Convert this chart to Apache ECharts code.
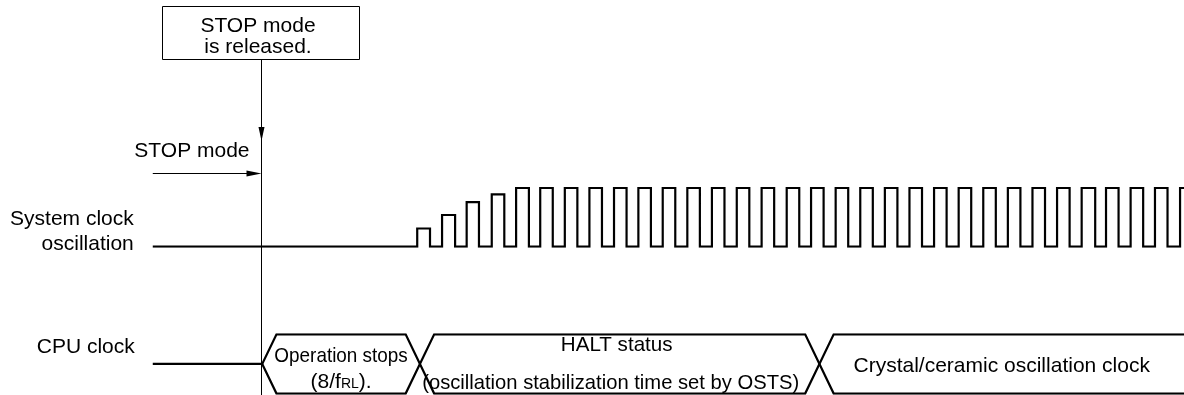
<!DOCTYPE html>
<html><head><meta charset="utf-8">
<script src="https://cdn.jsdelivr.net/npm/echarts@6/dist/echarts.min.js"></script>
<style>html,body{margin:0;padding:0;background:#fff}#c{width:1184px;height:395px}</style>
</head><body><div id="c"></div>
<script>
// Time unit: one period of the stable system clock. t = 0 is the moment STOP mode is released.
const timeMin = -10.59;
const timeMax = 37.54;
const traceStart = -4.38;
const releaseTime = 0;

// System clock oscillation: rising / falling edges and relative amplitude of each pulse
const clockRise = [6.37, 7.38, 8.38, 9.40, 10.39, 11.37, 12.37, 13.37, 14.37, 15.36, 16.35, 17.35, 18.35, 19.36, 20.37, 21.39,
  22.38, 23.38, 24.38, 25.38, 26.38, 27.38, 28.38, 29.38, 30.38, 31.38, 32.38, 33.38, 34.37, 35.37, 36.36, 37.38];
const clockFall = [6.89, 7.91, 8.88, 9.91, 10.91, 11.88, 12.88, 13.88, 14.88, 15.87, 16.86, 17.86, 18.86, 19.87, 20.88, 21.90,
  22.89, 23.89, 24.89, 25.89, 26.89, 27.89, 28.89, 29.89, 30.89, 31.89, 32.89, 33.93, 34.88, 35.88, 36.87, 37.89];
const clockHeight = [0.31, 0.54, 0.76, 0.89, 1, 1, 1, 1, 1, 1, 1, 1, 1, 1, 1, 1,
  1, 1, 1, 1, 1, 1, 1, 1, 1, 1, 1, 1, 1, 1, 1, 1];

// CPU clock states
const cpuStateNames = ['Operation stops', 'HALT status', 'Crystal/ceramic oscillation clock'];
const cpuStateNotes = ['(8/fRL).', '(oscillation stabilization time set by OSTS)', ''];
const cpuStateStart = [0.07, 6.48, 22.72];
const cpuStateEnd = [6.48, 22.72, 37.54];

// Row labels and annotations
const rowLabels = ['System clock\noscillation', 'CPU clock'];
const releaseBoxText = 'STOP mode\nis released.';
const stopModeText = 'STOP mode';

// ---- styles ----
const FONT = '"Liberation Sans", Arial, Helvetica, sans-serif';
const edgeHalf = 0.58; // half-width of a bus transition, in time units
const labelCfg = [
  { nameDx: 0, nameDy: -8, nameSize: 21, nameScaleX: 0.9, noteDx: 0, noteDy: 18, noteSize: 21 },
  { nameDx: -3, nameDy: -18.5, nameSize: 20.6, nameScaleX: 1, noteDx: -9, noteDy: 19, noteSize: 20.2 },
  { nameDx: 0, nameDy: 2.5, nameSize: 21, nameScaleX: 1, noteDx: 0, noteDy: 0, noteSize: 21 }
];

// System clock polyline
const clockData = [[traceStart, 0]];
for (let i = 0; i < clockRise.length; i++) {
  clockData.push([clockRise[i], 0], [clockRise[i], clockHeight[i]], [clockFall[i], clockHeight[i]], [clockFall[i], 0]);
}

// CPU clock bus polylines
const busA = [[traceStart, 0], [cpuStateStart[0], 0]];
const busB = [[cpuStateStart[0], 0]];
let lvl = 1;
busA.push([cpuStateStart[0] + edgeHalf, lvl]);
busB.push([cpuStateStart[0] + edgeHalf, -lvl]);
for (let i = 1; i < cpuStateStart.length; i++) {
  const c = cpuStateStart[i];
  busA.push([c - edgeHalf, lvl], [c + edgeHalf, -lvl]);
  busB.push([c - edgeHalf, -lvl], [c + edgeHalf, lvl]);
  lvl = -lvl;
}
const endT = cpuStateEnd[cpuStateEnd.length - 1];
busA.push([endT, lvl]);
busB.push([endT, -lvl]);

function noteRich(note) {
  const parts = note.split('fRL');
  if (parts.length > 1) return '{b|' + parts[0] + 'f}{s|RL}{b|' + parts[1] + '}';
  return '{b|' + note + '}';
}

function renderState(params, api) {
  const i = api.value(2);
  const mid = (api.value(0) + api.value(1)) / 2;
  const p = api.coord([mid, 0]);
  const cfg = labelCfg[i];
  const children = [{
    type: 'text', x: p[0] + cfg.nameDx, y: p[1] + cfg.nameDy, scaleX: cfg.nameScaleX,
    style: { text: cpuStateNames[i], x: 0, y: 0, align: 'center', verticalAlign: 'middle',
      fontFamily: FONT, fontSize: cfg.nameSize, fill: '#000' }
  }];
  if (cpuStateNotes[i]) {
    children.push({
      type: 'text', x: p[0] + cfg.noteDx, y: p[1] + cfg.noteDy,
      style: { text: noteRich(cpuStateNotes[i]), x: 0, y: 0, align: 'center', verticalAlign: 'middle',
        fontFamily: FONT, fontSize: cfg.noteSize, fill: '#000',
        rich: {
          b: { fontFamily: FONT, fontSize: cfg.noteSize, lineHeight: 26, fill: '#000', color: '#000' },
          s: { fontFamily: FONT, fontSize: 14, verticalAlign: 'middle', padding: [4, 0, 0, 0], fill: '#000', color: '#000' }
        } }
    });
  }
  return { type: 'group', children };
}

const option = {
  animation: false,
  backgroundColor: '#fff',
  grid: [
    { left: 0, right: 0, top: 188, height: 58.7 },
    { left: 0, right: 0, top: 334.3, height: 59.3 }
  ],
  xAxis: [
    { type: 'value', gridIndex: 0, min: timeMin, max: timeMax, show: false },
    { type: 'value', gridIndex: 1, min: timeMin, max: timeMax, show: false }
  ],
  yAxis: [
    { type: 'value', gridIndex: 0, min: 0, max: 1, show: false },
    { type: 'value', gridIndex: 1, min: -1, max: 1, show: false }
  ],
  series: [
    { type: 'line', xAxisIndex: 0, yAxisIndex: 0, data: clockData, symbol: 'none',
      lineStyle: { color: '#000', width: 2.2, join: 'miter' } },
    { type: 'line', xAxisIndex: 1, yAxisIndex: 1, data: busA, symbol: 'none',
      lineStyle: { color: '#000', width: 2.2, join: 'miter' } },
    { type: 'line', xAxisIndex: 1, yAxisIndex: 1, data: busB, symbol: 'none',
      lineStyle: { color: '#000', width: 2.2, join: 'miter' } },
    { type: 'custom', xAxisIndex: 1, yAxisIndex: 1, silent: true, clip: false,
      data: cpuStateNames.map((n, i) => [cpuStateStart[i], cpuStateEnd[i], i]),
      renderItem: renderState }
  ]
};

const chart = echarts.init(document.getElementById('c'), null, { renderer: 'canvas' });
chart.setOption(option);

const rx = Math.round(chart.convertToPixel({ xAxisIndex: 0 }, releaseTime)) + 0.5;
const sx = chart.convertToPixel({ xAxisIndex: 0 }, traceStart);
const rowY0 = chart.convertToPixel({ xAxisIndex: 0, yAxisIndex: 0 }, [0, 0])[1];
const rowY1 = chart.convertToPixel({ xAxisIndex: 1, yAxisIndex: 1 }, [0, 0])[1];

chart.setOption({
  graphic: [
    { type: 'line', shape: { x1: rx, y1: 59, x2: rx, y2: 395 }, style: { stroke: '#000', lineWidth: 1 }, z: 1 },
    { type: 'rect', shape: { x: 162.5, y: 6.5, width: 197, height: 53 },
      style: { fill: '#fff', stroke: '#000', lineWidth: 1 } },
    { type: 'text', style: { text: releaseBoxText, x: rx - 3.5, y: 36.5, align: 'center', verticalAlign: 'middle',
      fontFamily: FONT, fontSize: 21, lineHeight: 21, fill: '#000' } },
    { type: 'polygon', shape: { points: [[rx - 3, 127], [rx + 3, 127], [rx, 141]] }, style: { fill: '#000' } },
    { type: 'line', shape: { x1: sx, y1: 173.5, x2: rx - 4, y2: 173.5 }, style: { stroke: '#000', lineWidth: 1 } },
    { type: 'polygon', shape: { points: [[rx - 15, 170.5], [rx - 15, 176.5], [rx, 173.5]] }, style: { fill: '#000' } },
    { type: 'text', style: { text: stopModeText, x: rx - 12, y: 151, align: 'right', verticalAlign: 'middle',
      fontFamily: FONT, fontSize: 21, fill: '#000' } },
    { type: 'text', style: { text: rowLabels[0], x: sx - 19, y: rowY0 - 15, align: 'right', verticalAlign: 'middle',
      fontFamily: FONT, fontSize: 21, lineHeight: 25, fill: '#000' } },
    { type: 'text', style: { text: rowLabels[1], x: sx - 18, y: rowY1 - 16.5, align: 'right', verticalAlign: 'middle',
      fontFamily: FONT, fontSize: 21, fill: '#000' } }
  ]
});
</script></body></html>
